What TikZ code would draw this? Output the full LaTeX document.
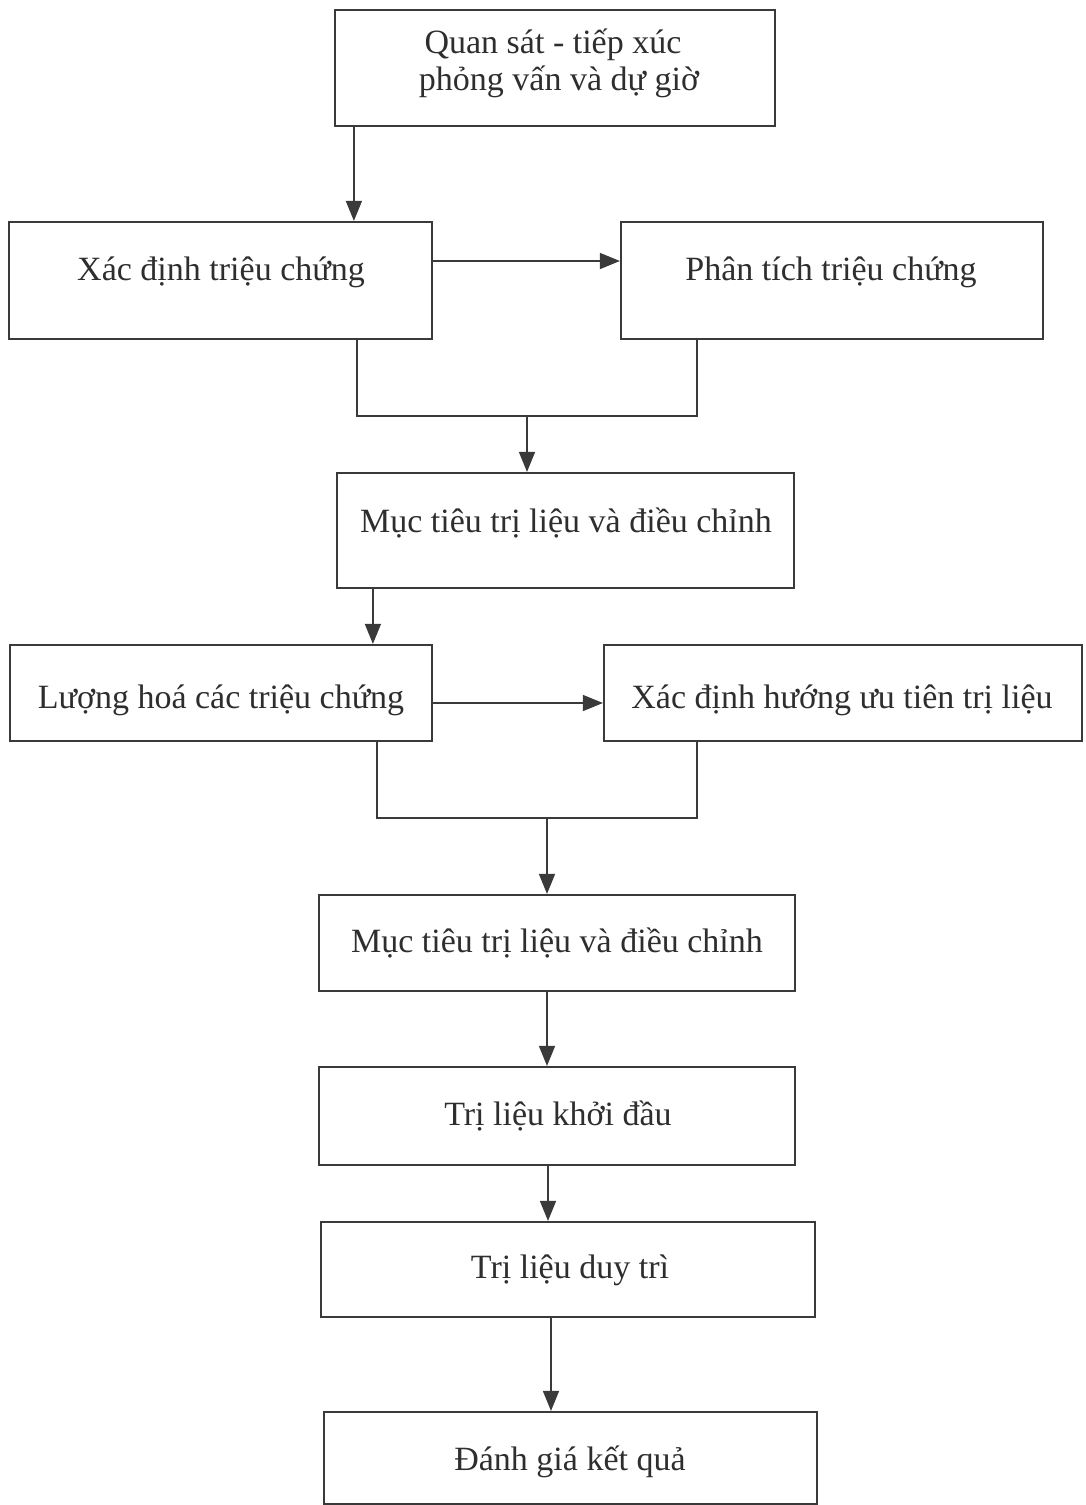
\documentclass[tikz,border=0pt]{standalone}
\usepackage{fontspec}
\setmainfont{Liberation Serif}
\usetikzlibrary{arrows.meta,positioning,calc}
\definecolor{ink}{HTML}{3A3A3A}
\definecolor{txt}{HTML}{2E2E2E}
\tikzset{
  box/.style={draw=ink, line width=2.2pt, rectangle, inner sep=0pt},
  lbl/.style={anchor=base, text=txt, font=\fontsize{34}{38}\selectfont, inner sep=0pt},
  conn/.style={draw=ink, line width=1.5pt},
  arr/.style={conn, -{Triangle[length=20pt,width=16pt]}},
}
\begin{document}
\begin{tikzpicture}[x=1pt,y=-1pt]
\useasboundingbox[fill=white] (0,0) rectangle (1085,1505);
% boxes
\node[box, minimum width=440pt, minimum height=116pt] (b1) at (555,68) {};
\node[box, minimum width=423pt, minimum height=117pt] (b2) at (220.5,280.5) {};
\node[box, minimum width=422pt, minimum height=117pt] (b3) at (832,280.5) {};
\node[box, minimum width=457pt, minimum height=115pt] (b4) at (565.5,530.5) {};
\node[box, minimum width=422pt, minimum height=96pt] (b5) at (221,693) {};
\node[box, minimum width=478pt, minimum height=96pt] (b6) at (843,693) {};
\node[box, minimum width=476pt, minimum height=96pt] (b7) at (557,943) {};
\node[box, minimum width=476pt, minimum height=98pt] (b8) at (557,1116) {};
\node[box, minimum width=494pt, minimum height=95pt] (b9) at (568,1269.5) {};
\node[box, minimum width=493pt, minimum height=92pt] (b10) at (570.5,1458) {};
% labels
\node[lbl] (t1a) at (553,53) {Quan sát - tiếp xúc};
\node[lbl] (t1b) at (559,90) {phỏng vấn và dự giờ};
\node[lbl] (t2) at (221,280) {Xác định triệu chứng};
\node[lbl] (t3) at (831,280) {Phân tích triệu chứng};
\node[lbl] (t4) at (566,532) {Mục tiêu trị liệu và điều chỉnh};
\node[lbl] (t5) at (221,708) {Lượng hoá các triệu chứng};
\node[lbl] (t6) at (842,708) {Xác định hướng ưu tiên trị liệu};
\node[lbl] (t7) at (557,952) {Mục tiêu trị liệu và điều chỉnh};
\node[lbl] (t8) at (558,1125) {Trị liệu khởi đầu};
\node[lbl] (t9) at (570,1278) {Trị liệu duy trì};
\node[lbl] (t10) at (570,1470) {Đánh giá kết quả};
% junction points
\coordinate (m1) at (527,416);
\coordinate (m2) at (547,818);
% connectors
\draw[arr] ([xshift=20pt]b1.south west) -- ([xshift=20pt]b1.south west |- b2.north);
\draw[arr] ([yshift=19.5pt]b2.east) -- ([yshift=19.5pt]b2.east -| b3.west);
\draw[conn] ([xshift=-76pt]b2.south east) |- (m1) -| ([xshift=77pt]b3.south west);
\draw[arr] (m1) -- (m1 |- b4.north);
\draw[arr] ([xshift=37pt]b4.south west) -- ([xshift=37pt]b4.south west |- b5.north);
\draw[arr] ([yshift=-10pt]b5.east) -- ([yshift=-10pt]b5.east -| b6.west);
\draw[conn] ([xshift=-56pt]b5.south east) |- (m2) -| ([xshift=94pt]b6.south west);
\draw[arr] (m2) -- (m2 |- b7.north);
\draw[arr] (b7.south -| m2) -- (b8.north -| m2);
\draw[arr] ([xshift=1pt]b8.south -| m2) -- ([xshift=1pt]b9.north -| m2);
\draw[arr] ([xshift=4pt]b9.south -| m2) -- ([xshift=4pt]b10.north -| m2);
\end{tikzpicture}
\end{document}
